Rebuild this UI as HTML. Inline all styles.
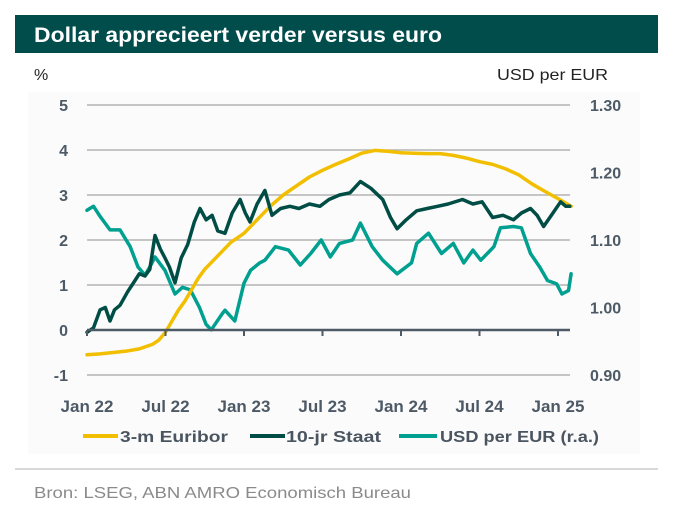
<!DOCTYPE html>
<html><head><meta charset="utf-8"><style>
body{margin:0;background:#fff;width:673px;height:511px;overflow:hidden;font-family:"Liberation Sans",sans-serif}
</style></head><body>
<svg width="673" height="511" viewBox="0 0 673 511" xmlns="http://www.w3.org/2000/svg">
<rect x="28" y="92" width="612" height="362" fill="#fbfbfb"/>
<rect x="15" y="15" width="643" height="38" fill="#004d4b"/>
<text x="34" y="42" fill="#fff" font-size="21" font-weight="bold" textLength="408" lengthAdjust="spacingAndGlyphs">Dollar apprecieert verder versus euro</text>
<text x="34" y="80" fill="#222" font-size="16">%</text>
<text x="497" y="80" fill="#222" font-size="16" textLength="111" lengthAdjust="spacingAndGlyphs">USD per EUR</text>
<g id="grid"></g><g id="series"></g><g id="xaxis"></g>
<g font-size="16" font-weight="bold" fill="#4a5560">
<line x1="83" y1="436" x2="118" y2="436" stroke="#f2bf00" stroke-width="4"/>
<text x="120" y="442" textLength="108" lengthAdjust="spacingAndGlyphs">3-m Euribor</text>
<line x1="250" y1="436" x2="285" y2="436" stroke="#004d45" stroke-width="4"/>
<text x="286" y="442" textLength="95" lengthAdjust="spacingAndGlyphs">10-jr Staat</text>
<line x1="399" y1="436" x2="437" y2="436" stroke="#00a090" stroke-width="4"/>
<text x="440" y="442" textLength="159" lengthAdjust="spacingAndGlyphs">USD per EUR (r.a.)</text>
</g>
<line x1="15" y1="469" x2="658" y2="469" stroke="#ccc" stroke-width="1.5"/>
<text x="34" y="498" fill="#8a8a8a" font-size="16" textLength="377" lengthAdjust="spacingAndGlyphs">Bron: LSEG, ABN AMRO Economisch Bureau</text>
</svg>
<script>
const leftTicks=[5,4,3,2,1,0,-1];
const rightTicks=["1.30","1.20","1.10","1.00","0.90"];
const xLabels=["Jan 22","Jul 22","Jan 23","Jul 23","Jan 24","Jul 24","Jan 25"];
const xLabelMonths=[0,6,12,18,24,30,36];
const euriborMonths=[0,1,2,3,4,5,5.5,6,6.5,7,7.5,8,8.5,9,10,11,12,13,14,15,16,17,18,19,20,21,22,23,24,25,26,27,28,29,30,31,32,33,34,35,36,37];
const euriborValues=[-0.55,-0.53,-0.5,-0.47,-0.42,-0.32,-0.22,-0.05,0.2,0.45,0.65,0.9,1.15,1.35,1.65,1.95,2.15,2.45,2.75,3.0,3.2,3.4,3.55,3.68,3.8,3.93,3.99,3.97,3.94,3.93,3.92,3.92,3.88,3.82,3.74,3.68,3.58,3.45,3.25,3.08,2.92,2.75,2.62];
const staatMonths=[0,0.5,1,1.4,1.76,2.1,2.52,3.1,3.67,4.0,4.43,4.8,5.2,5.6,5.96,6.3,6.73,7.2,7.7,8.2,8.64,9.1,9.56,10.0,10.55,11.1,11.7,12.1,12.46,13.0,13.6,14.14,14.8,15.5,16.2,17.0,17.8,18.5,19.3,20.1,20.9,21.7,22.6,23.2,23.7,24.4,25.2,26.0,26.8,27.6,28.7,29.5,30.2,31.0,31.8,32.6,33.2,33.9,34.4,34.9,35.5,36.2,36.6,36.9];
const staatValues=[-0.05,0.05,0.45,0.5,0.2,0.45,0.55,0.85,1.1,1.25,1.2,1.35,2.1,1.8,1.6,1.4,1.05,1.6,1.9,2.4,2.7,2.45,2.55,2.2,2.15,2.6,2.9,2.6,2.4,2.8,3.1,2.55,2.7,2.75,2.7,2.8,2.75,2.9,3.0,3.05,3.3,3.15,2.9,2.5,2.25,2.45,2.65,2.7,2.75,2.8,2.9,2.8,2.85,2.5,2.55,2.45,2.6,2.7,2.55,2.3,2.55,2.85,2.75,2.75];
const usdMonths=[0,0.5,1,1.76,2.52,3.3,3.9,4.43,4.8,5.2,5.96,6.73,7.3,7.9,8.6,9.1,9.5,10.3,10.55,11.3,12.0,12.5,13.2,13.6,14.4,15.4,16.3,17.1,17.9,18.6,19.3,20.3,20.9,21.8,22.6,23.7,24.8,25.2,26.1,27.1,28.0,28.8,29.5,30.1,31.1,31.6,32.6,33.2,33.9,34.6,35.2,35.9,36.3,36.8,37.0];
const usdValues=[1.144,1.15,1.135,1.115,1.115,1.09,1.06,1.048,1.06,1.075,1.055,1.02,1.03,1.026,1.0,0.975,0.967,0.99,0.996,0.98,1.036,1.055,1.066,1.07,1.09,1.085,1.063,1.08,1.10,1.075,1.095,1.10,1.125,1.09,1.07,1.05,1.066,1.095,1.11,1.08,1.095,1.066,1.085,1.07,1.09,1.118,1.12,1.118,1.08,1.06,1.04,1.035,1.02,1.025,1.05,1.045];
const NS="http://www.w3.org/2000/svg";
const X0=87,MPX=13.083,X1=570;
const xS=m=>X0+m*MPX;
const yL=v=>330-v*45;
const yR=v=>307.5-(v-1)*675;
function mk(tag,attrs,parent){const e=document.createElementNS(NS,tag);for(const k in attrs)e.setAttribute(k,attrs[k]);parent.appendChild(e);return e;}
const grid=document.getElementById('grid');
leftTicks.forEach(v=>{
  if(v!==0){const l=mk('line',{x1:X0,x2:X1,y1:yL(v),y2:yL(v),stroke:'#b3b3b3','stroke-width':1.5},grid);
  
  }
  const t=mk('text',{x:68,y:yL(v)+6,'text-anchor':'end','font-size':16,'font-weight':'bold',fill:'#4d5a66'},grid);
  t.textContent=v;
  
  
});
rightTicks.forEach(s=>{
  const t=mk('text',{x:590,y:yR(parseFloat(s))+6,'font-size':16,'font-weight':'bold',fill:'#4d5a66'},grid);
  t.textContent=s;
  
  
});
const ser=document.getElementById('series');
function line(ms,vs,ys,color,name){
  const d=ms.map((m,i)=>(i?'L':'M')+xS(m).toFixed(1)+','+ys(vs[i]).toFixed(1)).join('');
  const p=mk('path',{d:d,fill:'none',stroke:color,'stroke-width':3.5,'stroke-linejoin':'round','stroke-linecap':'round'},ser);
  
  
}
line(usdMonths,usdValues,yR,'#00a090','usd-per-eur-line');
line(euriborMonths,euriborValues,yL,'#f2bf00','euribor-line');
line(staatMonths,staatValues,yL,'#004d45','staat-line');
const xa=document.getElementById('xaxis');
const ax=mk('line',{x1:X0,x2:X1,y1:330,y2:330,stroke:'#4d5a66','stroke-width':2.5},xa);


xLabelMonths.forEach((m,i)=>{
  const tk=mk('line',{x1:xS(m),x2:xS(m),y1:330,y2:336,stroke:'#4d5a66','stroke-width':2},xa);
  
  
  const t=mk('text',{x:xS(m),y:412,'text-anchor':'middle','font-size':17,'font-weight':'bold',fill:'#4d5a66'},xa);
  t.textContent=xLabels[i];
  
  
});
</script>
</body></html>
